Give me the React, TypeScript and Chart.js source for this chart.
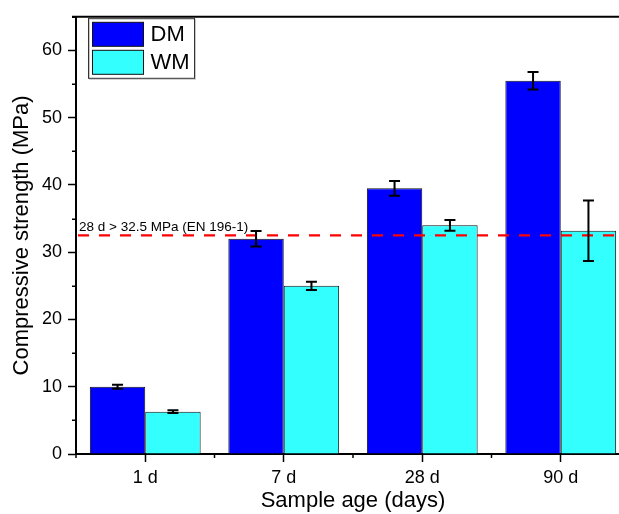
import React, { useEffect, useRef } from "react";
import { Chart, registerables } from "chart.js";

Chart.register(...registerables);

const categories = ["1 d", "7 d", "28 d", "90 d"];
const dmValues = [10.0, 32.0, 39.5, 55.5];
const dmErrors = [0.3, 1.15, 1.1, 1.3];
const wmValues = [6.3, 25.0, 34.0, 33.2];
const wmErrors = [0.2, 0.6, 0.8, 4.5];
const seriesLabels = ["DM", "WM"];
const seriesColors = ["#0000FF", "#33FFFF"];
const thresholdValue = 32.5;
const thresholdLabel = "28 d > 32.5 MPa (EN 196-1)";
const yMin = 0;
const yMax = 65;
const yMajorStep = 10;
const yMinorStep = 5;
const xTitle = "Sample age (days)";
const yTitle = "Compressive strength (MPa)";

const FONT = "'Liberation Sans', Arial, Helvetica, sans-serif";
const errorSets = [dmErrors, wmErrors];

const overlayPlugin = {
  id: "overlay",
  afterDatasetsDraw(chart: any) {
    const { ctx, chartArea, scales } = chart;
    const y = scales.y;
    // threshold line
    const ly = y.getPixelForValue(thresholdValue);
    ctx.save();
    ctx.strokeStyle = "#FF0000";
    ctx.lineWidth = 2.2;
    ctx.setLineDash([11, 10]);
    ctx.beginPath();
    ctx.moveTo(chartArea.left + 2, ly);
    ctx.lineTo(chartArea.right, ly);
    ctx.stroke();
    ctx.setLineDash([]);
    ctx.fillStyle = "#000";
    ctx.font = `13.5px ${FONT}`;
    ctx.textAlign = "left";
    ctx.textBaseline = "alphabetic";
    ctx.fillText(thresholdLabel, chartArea.left + 3, ly - 4);
    ctx.restore();

    // error bars
    ctx.save();
    ctx.strokeStyle = "#000";
    ctx.lineWidth = 2;
    chart.data.datasets.forEach((ds: any, di: number) => {
      const meta = chart.getDatasetMeta(di);
      const errs = errorSets[di];
      meta.data.forEach((bar: any, i: number) => {
        const v = ds.data[i];
        const e = errs[i];
        const yt = y.getPixelForValue(v + e);
        const yb = y.getPixelForValue(v - e);
        const cx = bar.x;
        const cap = 5.5;
        ctx.beginPath();
        ctx.moveTo(cx, yt);
        ctx.lineTo(cx, yb);
        ctx.moveTo(cx - cap, yt);
        ctx.lineTo(cx + cap, yt);
        ctx.moveTo(cx - cap, yb);
        ctx.lineTo(cx + cap, yb);
        ctx.stroke();
      });
    });
    ctx.restore();
  },
  afterDraw(chart: any) {
    const { ctx, chartArea, scales } = chart;
    const x = scales.x;
    const y = scales.y;
    ctx.save();
    ctx.strokeStyle = "#000";
    // top border
    ctx.lineWidth = 2;
    ctx.beginPath();
    ctx.moveTo(chartArea.left - 4, chartArea.top);
    ctx.lineTo(chartArea.right, chartArea.top);
    ctx.stroke();
    // y minor ticks
    ctx.lineWidth = 1.5;
    for (let v = yMin + yMinorStep; v <= yMax; v += yMajorStep) {
      const py = Math.round(y.getPixelForValue(v)) + 0.25;
      ctx.beginPath();
      ctx.moveTo(chartArea.left - 4, py);
      ctx.lineTo(chartArea.left, py);
      ctx.stroke();
    }
    // x minor ticks at category boundaries
    const n = categories.length;
    for (let i = 0; i <= n; i++) {
      let px: number;
      if (i === 0) px = chartArea.left;
      else if (i === n) px = chartArea.right;
      else px = (x.getPixelForValue(i - 1) + x.getPixelForValue(i)) / 2;
      ctx.beginPath();
      ctx.moveTo(px, chartArea.bottom);
      ctx.lineTo(px, chartArea.bottom + 4);
      ctx.stroke();
    }
    // legend
    const lx = chartArea.left + 12.5;
    const lyTop = chartArea.top + 1.5;
    ctx.fillStyle = "#fff";
    ctx.fillRect(lx, lyTop, 106, 60);
    ctx.strokeStyle = "#c8c8c8";
    ctx.lineWidth = 1;
    ctx.strokeRect(lx + 1, lyTop + 1, 106, 60);
    ctx.strokeStyle = "#333";
    ctx.strokeRect(lx, lyTop, 106, 60);
    chart.data.datasets.forEach((ds: any, di: number) => {
      const sy = lyTop + 4 + di * 28;
      ctx.fillStyle = ds.backgroundColor;
      ctx.fillRect(lx + 4, sy, 51, 24);
      ctx.strokeStyle = "#111";
      ctx.lineWidth = 1;
      ctx.strokeRect(lx + 4, sy, 51, 24);
      ctx.fillStyle = "#000";
      ctx.font = `22px ${FONT}`;
      ctx.textAlign = "left";
      ctx.textBaseline = "middle";
      ctx.fillText(ds.label, lx + 62, sy + 13);
    });
    ctx.restore();
  },
};

export default function App() {
  const canvasRef = useRef<HTMLCanvasElement | null>(null);

  useEffect(() => {
    const canvas = canvasRef.current;
    if (!canvas) return;
    const chart = new Chart(canvas, {
      type: "bar",
      data: {
        labels: categories,
        datasets: [
          {
            label: seriesLabels[0],
            data: dmValues,
            backgroundColor: seriesColors[0],
            borderColor: "#111",
            borderWidth: 1,
            categoryPercentage: 0.8,
            barPercentage: 1.0,
          },
          {
            label: seriesLabels[1],
            data: wmValues,
            backgroundColor: seriesColors[1],
            borderColor: "#111",
            borderWidth: 1,
            categoryPercentage: 0.8,
            barPercentage: 1.0,
          },
        ],
      },
      options: {
        responsive: false,
        devicePixelRatio: 1,
        animation: false,
        layout: { padding: { top: 15, right: 10, left: 0, bottom: 0 } },
        plugins: {
          legend: { display: false },
          tooltip: { enabled: false },
        },
        scales: {
          x: {
            afterFit: (scale: any) => {
              scale.height = 60;
            },
            grid: {
              offset: false,
              drawOnChartArea: false,
              drawTicks: true,
              tickLength: 8,
              tickColor: "#000",
              tickWidth: 1.5,
            },
            border: { color: "#000", width: 2 },
            ticks: {
              color: "#000",
              font: { family: FONT, size: 18 },
              padding: 5,
              maxRotation: 0,
            },
            title: {
              display: true,
              text: xTitle,
              color: "#000",
              font: { family: FONT, size: 22 },
              padding: { top: 0, bottom: 0 },
            },
          },
          y: {
            min: yMin,
            max: yMax,
            afterFit: (scale: any) => {
              scale.width = 76;
            },
            afterBuildTicks: (scale: any) => {
              scale.ticks = scale.ticks.filter(
                (t: any) => t.value % yMajorStep === 0
              );
            },
            grid: {
              drawOnChartArea: false,
              drawTicks: true,
              tickLength: 8,
              tickColor: "#000",
              tickWidth: 1.5,
            },
            border: { color: "#000", width: 2 },
            ticks: {
              stepSize: yMajorStep,
              color: "#000",
              font: { family: FONT, size: 18 },
              padding: 6,
            },
            title: {
              display: true,
              text: yTitle,
              color: "#000",
              font: { family: FONT, size: 22 },
              padding: { top: 9, bottom: 0 },
            },
          },
        },
      },
      plugins: [overlayPlugin],
    });
    return () => {
      chart.destroy();
    };
  }, []);

  return (
    <div
      style={{
        position: "fixed",
        left: 0,
        top: 0,
        width: 619,
        height: 514,
        overflow: "hidden",
        background: "#fff",
      }}
    >
      <canvas
        ref={canvasRef}
        width={640}
        height={514}
        style={{ display: "block", width: 640, height: 514 }}
      />
    </div>
  );
}
